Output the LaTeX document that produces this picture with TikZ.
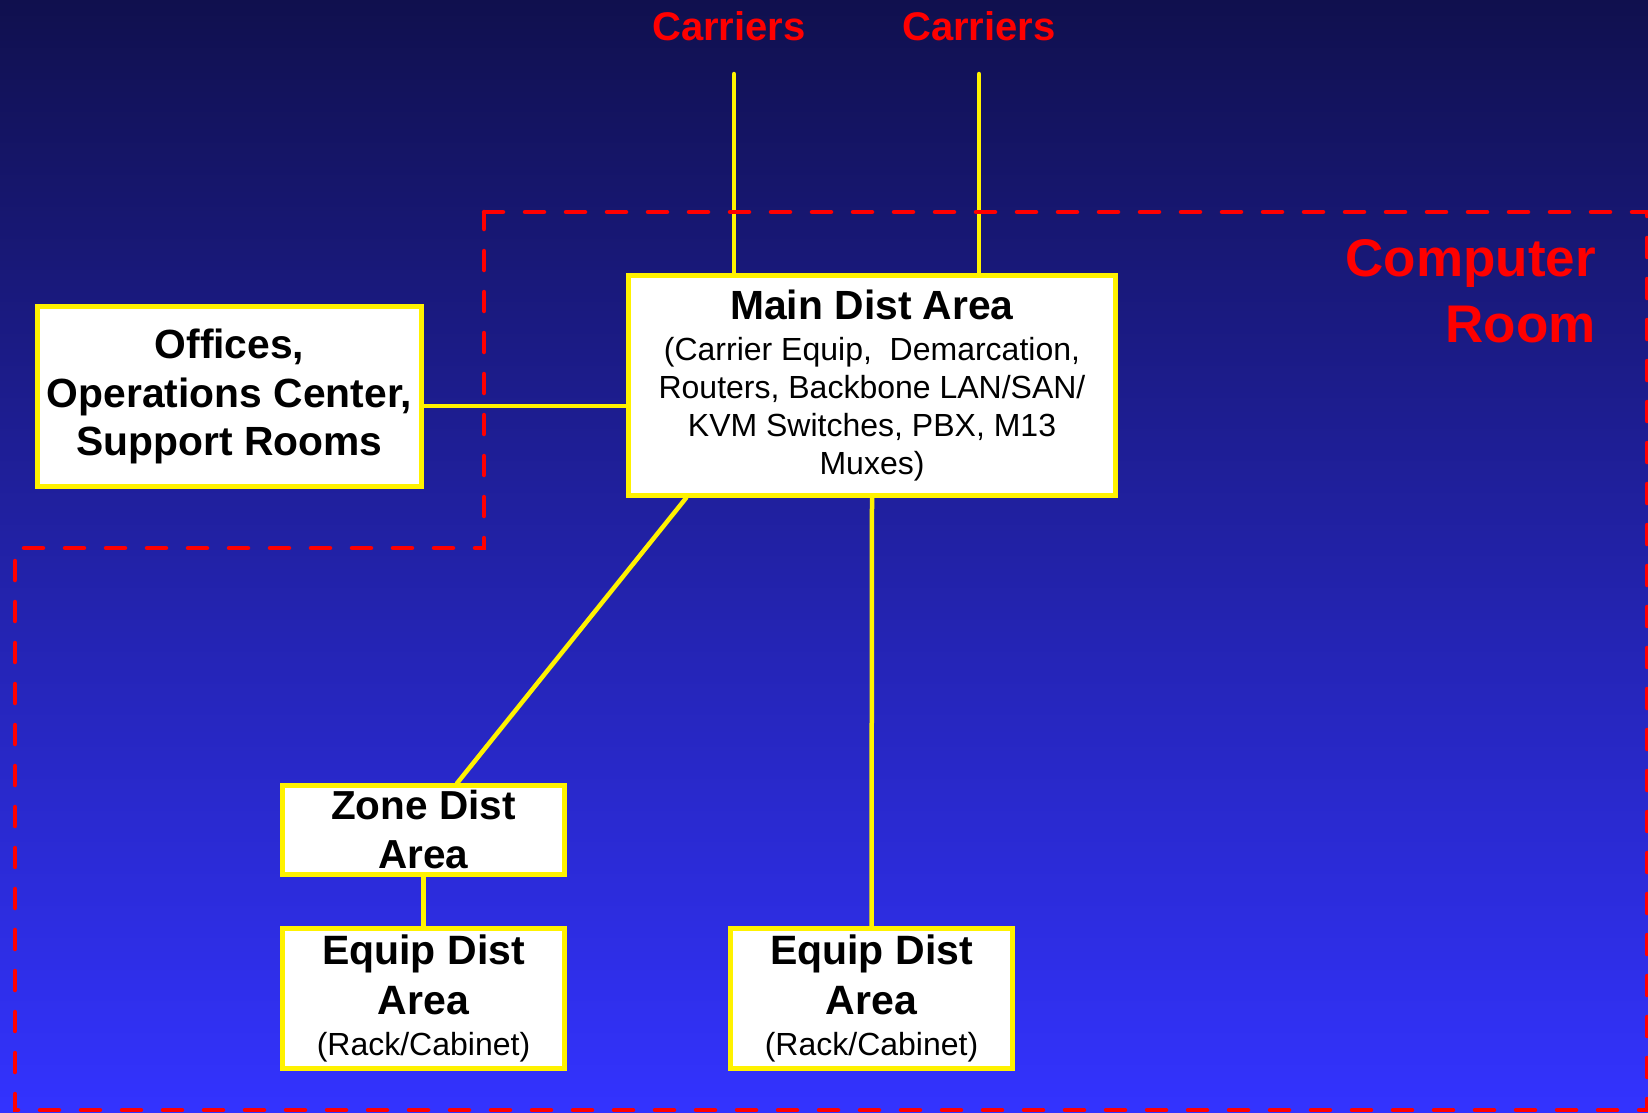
\documentclass[tikz,border=0pt]{standalone}
\usepackage{fontspec}
\setmainfont{Liberation Sans}
\usepackage{tikz}

\definecolor{bgtop}{RGB}{16,16,78}
\definecolor{bgmid}{RGB}{44,44,215}
\definecolor{bgbottom}{RGB}{51,51,255}

\tikzset{
  area/.style={draw=yellow, line width=4.5pt, fill=white, text=black, inner sep=0pt, align=center},
  link/.style={draw=yellow, line width=4.5pt, line cap=round},
  roomline/.style={draw=red, line width=4.5pt, line cap=round, dash pattern=on 19pt off 22pt},
  redlabel/.style={text=red, inner sep=0pt, font=\fontsize{40}{48}\selectfont\bfseries}
}

\begin{document}
\begin{tikzpicture}[x=1pt, y=-1pt]
\useasboundingbox (0,0) rectangle (1648,1112);
\shade[top color=bgtop, middle color=bgmid, bottom color=bgbottom] (0,0) rectangle (1648,1112);

% labels on top
\node[redlabel, anchor=base] (carrierA) at (729,40) {Carriers};
\node[redlabel, anchor=base] (carrierB) at (979,40) {Carriers};
\node[redlabel, font=\fontsize{53}{66}\selectfont\bfseries, align=right, anchor=north east] (room) at (1596,239) {Computer\\Room};

% boxes
\node[area, minimum width=487pt, minimum height=220pt, font=\fontsize{32}{37.7}\selectfont] (main) at (872,385.5)
    {{\fontsize{40.8}{41}\selectfont\bfseries Main Dist Area}\\[3.3pt]
     (Carrier Equip,\ \ Demarcation,\\
     Routers, Backbone LAN/SAN/\\
     KVM Switches, PBX, M13\\
     Muxes)};
\node[area, minimum width=384pt, minimum height=180pt, font=\fontsize{40.8}{48.5}\selectfont\bfseries] (offices) at (229.5,396.5)
    {Offices,\\Operations Center,\\Support Rooms};
\node[area, minimum width=282pt, minimum height=89pt, font=\fontsize{40.5}{49}\selectfont\bfseries] (zone) at (423.5,830)
    {Zone Dist\\Area};
\node[area, minimum width=282pt, minimum height=140pt, font=\fontsize{41}{50}\selectfont\bfseries] (equipA) at (423.5,998.5)
    {Equip Dist\\Area\\[-9pt]{\fontsize{32}{41}\selectfont\mdseries(Rack/Cabinet)}};
\node[area, minimum width=282pt, minimum height=140pt, font=\fontsize{41}{50}\selectfont\bfseries] (equipB) at (871.5,998.5)
    {Equip Dist\\Area\\[-9pt]{\fontsize{32}{41}\selectfont\mdseries(Rack/Cabinet)}};

\coordinate (feedA) at (734,74);
\coordinate (feedB) at (979,74);

% links
\draw[link] (feedA) -- (feedA |- main.north);
\draw[link] (feedB) -- (feedB |- main.north);
\draw[link] ([yshift=-9.5pt]offices.east) -- ([yshift=-9.5pt]offices.east -| main.west);
\draw[link] ([xshift=60pt]main.south west) -- ([xshift=33.5pt]zone.north);
\draw[link] (main.south) -- (equipB.north);
\draw[link] (zone.south) -- (equipA.north);

% computer room outline
\draw[roomline] (484,212) -- (1647,212) -- (1647,1110) -- (15,1110) -- (15,548) -- (484,548) -- cycle;

\end{tikzpicture}
\end{document}
